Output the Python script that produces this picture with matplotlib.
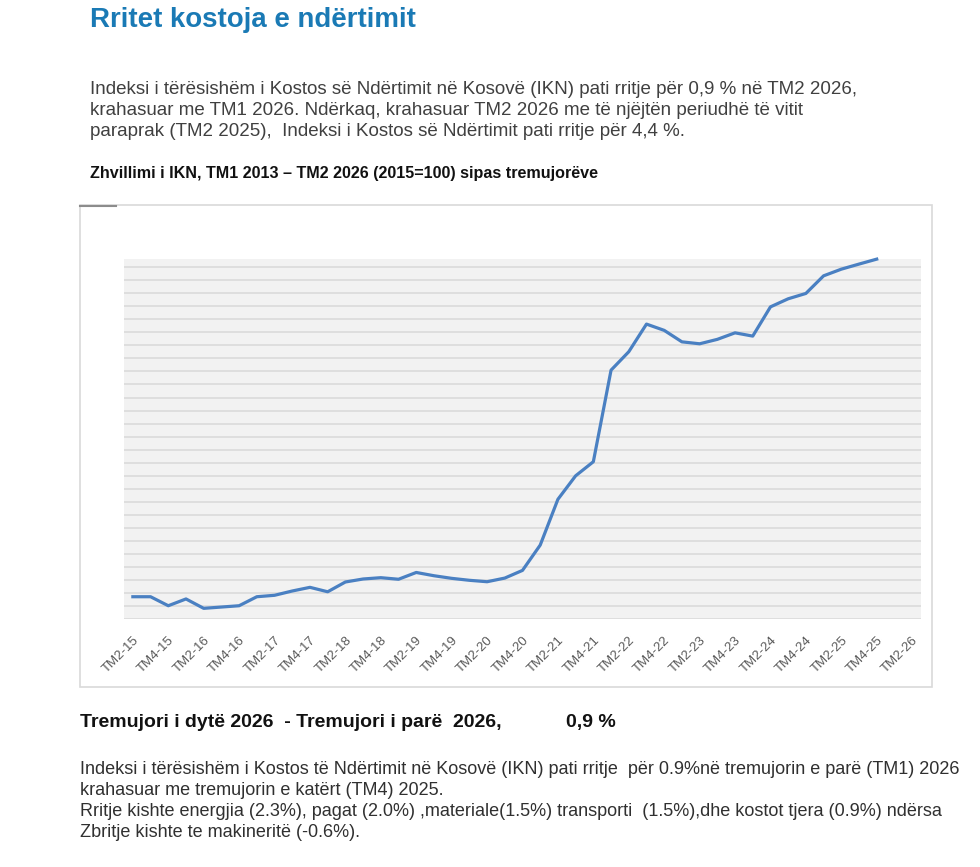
import matplotlib
matplotlib.use("Agg")
import matplotlib.pyplot as plt
import numpy as np

plt.rcParams['font.family'] = ['Liberation Sans', 'DejaVu Sans']

# ---- data ----
quarters = [f"TM{q}-{y}" for y in range(15, 27) for q in (1, 2, 3, 4)]
quarters = quarters[1:quarters.index("TM2-26") + 1]   # TM2-15 ... TM2-26
index_values = [
    99.73, 99.73, 99.04, 99.56, 98.84, 98.94, 99.04, 99.73, 99.84, 100.17,
    100.45, 100.11, 100.86, 101.09, 101.19, 101.07, 101.59, 101.34, 101.14, 100.99,
    100.88, 101.16, 101.75, 103.69, 107.20, 109.00, 110.08, 117.10, 118.51, 120.63,
    120.15, 119.27, 119.12, 119.46, 119.96, 119.71, 121.95, 122.57, 122.98, 124.33,
    124.84, 125.23, 125.61,
]
tick_labels = quarters[::2]

W, H = 980, 867
fig = plt.figure(figsize=(W / 100, H / 100), dpi=100)

def fx(px):
    return px / W

def fy(py):
    return 1 - py / H

# chart frame
frame = plt.Rectangle((fx(80), fy(687)), fx(932) - fx(80), fy(205) - fy(687),
                      transform=fig.transFigure, fill=False, edgecolor='#d9d9d9', lw=1.2)
fig.add_artist(frame)
fig.add_artist(plt.Line2D([fx(80), fx(110)], [fy(205.5), fy(205.5)], transform=fig.transFigure,
                          color='#8c8c8c', lw=1.5))
fig.add_artist(plt.Line2D([fx(112), fx(116)], [fy(205.5), fy(205.5)], transform=fig.transFigure,
                          color='#8c8c8c', lw=1.5))

ax = fig.add_axes([fx(124), fy(619.3), fx(921) - fx(124), fy(259) - fy(619.3)])
ax.set_facecolor('#f2f2f2')
x = np.arange(len(index_values))
ax.plot(x, index_values, color='#4a80c2', lw=2.3, solid_joinstyle='round', clip_on=False, zorder=3)
ax.set_xlim(-0.5, len(quarters) - 0.5)
ax.set_ylim(98, 125.62)
ax.set_yticks(np.arange(98, 126, 1))
ax.yaxis.grid(True, color='#dcdcdc', lw=1.3)
ax.set_axisbelow(True)
ax.tick_params(axis='y', left=False, labelleft=False)
ax.set_xticks(np.arange(0, len(quarters), 2))
ax.set_xticklabels(tick_labels, rotation=45, ha='right', va='top', rotation_mode='anchor',
                   fontsize=9.5, color='#595959')
ax.tick_params(axis='x', length=0, pad=11)
for s in ax.spines.values():
    s.set_visible(False)

# texts
fig.text(fx(90), fy(27), "Rritet kostoja e ndërtimit", fontsize=19.9, fontweight='bold',
         color='#1a7ab5', va='baseline', ha='left')

para1 = [
    "Indeksi i tërësishëm i Kostos së Ndërtimit në Kosovë (IKN) pati rritje për 0,9 % në TM2 2026,",
    "krahasuar me TM1 2026. Ndërkaq, krahasuar TM2 2026 me të njëjtën periudhë të vitit",
    "paraprak (TM2 2025),  Indeksi i Kostos së Ndërtimit pati rritje për 4,4 %.",
]
for i, line in enumerate(para1):
    fig.text(fx(90), fy(94.3 + i * 21), line, fontsize=13.5, color='#404040', va='baseline', ha='left')

fig.text(fx(90), fy(178.3), "Zhvillimi i IKN, TM1 2013 – TM2 2026 (2015=100) sipas tremujorëve",
         fontsize=11.6, fontweight='bold', color='#111111', va='baseline', ha='left')

fig.text(fx(80), fy(726.7), "Tremujori i dytë 2026  - Tremujori i parë  2026,", fontsize=14,
         fontweight='bold', color='#111111', va='baseline', ha='left')
fig.text(fx(566), fy(726.7), "0,9 %", fontsize=14, fontweight='bold', color='#111111',
         va='baseline', ha='left')

para2 = [
    "Indeksi i tërësishëm i Kostos të Ndërtimit në Kosovë (IKN) pati rritje  për 0.9%në tremujorin e parë (TM1) 2026",
    "krahasuar me tremujorin e katërt (TM4) 2025.",
    "Rritje kishte energjia (2.3%), pagat (2.0%) ,materiale(1.5%) transporti  (1.5%),dhe kostot tjera (0.9%) ndërsa",
    "Zbritje kishte te makineritë (-0.6%).",
]
for i, line in enumerate(para2):
    fig.text(fx(80), fy(774 + i * 20.9), line, fontsize=13.0, color='#303030', va='baseline', ha='left')

fig.savefig("out.png", dpi=100)
